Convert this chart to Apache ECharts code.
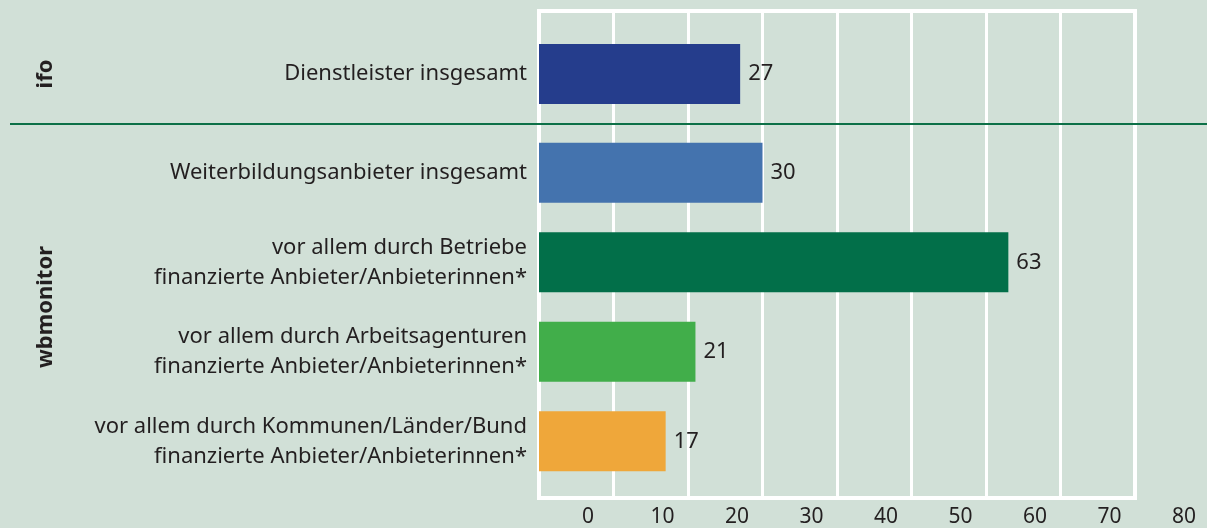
<!DOCTYPE html>
<html>
<head>
<meta charset="utf-8">
<script src="https://cdn.jsdelivr.net/npm/echarts@6/dist/echarts.min.js"></script>
<style>
  html, body { margin: 0; padding: 0; background: #d1e0d7; }
  #chart { width: 1207px; height: 528px; }
</style>
</head>
<body>
<div id="chart"></div>
<script>
// group "ifo"
const ifoCategories = ['Dienstleister insgesamt'];
const ifoValues = [27];
const ifoColors = ['#253d8c'];

// group "wbmonitor"
const wbCategories = [
  'Weiterbildungsanbieter insgesamt',
  'vor allem durch Betriebe\nfinanzierte Anbieter/Anbieterinnen*',
  'vor allem durch Arbeitsagenturen\nfinanzierte Anbieter/Anbieterinnen*',
  'vor allem durch Kommunen/Länder/Bund\nfinanzierte Anbieter/Anbieterinnen*'
];
const wbValues = [30, 63, 21, 17];
const wbColors = ['#4473ae', '#026f49', '#41ae4a', '#efa73a'];

const groupNames = ['ifo', 'wbmonitor'];

// x axis
const xMin = 0;
const xMax = 80;
const xStep = 10;

const FONT = '"Noto Sans", "Open Sans", sans-serif';
const TEXT = '#231f20';
const PLOT_LEFT = 539;
const PLOT_WIDTH = 596;

const chart = echarts.init(document.getElementById('chart'));

function catAxis(grid, cats, name) {
  return {
    type: 'category',
    gridIndex: grid,
    data: cats,
    inverse: true,
    axisLine: { show: false },
    axisTick: { show: false },
    splitLine: { show: false },
    axisLabel: {
      fontFamily: FONT,
      fontSize: 22,
      lineHeight: 30,
      color: TEXT,
      margin: 12
    },
    name: name,
    nameLocation: 'middle',
    nameRotate: 90,
    nameGap: 482,
    nameTextStyle: {
      fontFamily: FONT,
      fontSize: 22,
      fontWeight: 'bold',
      color: TEXT
    }
  };
}

function hiddenValueAxis(grid) {
  return { type: 'value', gridIndex: grid, min: xMin, max: xMax, show: false };
}

function barSeries(idx, values, colors) {
  return {
    type: 'bar',
    xAxisIndex: idx,
    yAxisIndex: idx,
    barWidth: 60,
    data: values.map((v, i) => ({ value: v, itemStyle: { color: colors[i] } })),
    label: {
      show: true,
      position: 'right',
      distance: 8,
      fontFamily: FONT,
      fontSize: 22,
      color: TEXT
    },
    silent: true
  };
}

const option = {
  backgroundColor: '#d1e0d7',
  animation: false,
  grid: [
    { left: PLOT_LEFT, width: PLOT_WIDTH, top: 10, height: 128 },
    { left: PLOT_LEFT, width: PLOT_WIDTH, top: 128, height: 358 },
    // frame + gridlines + tick labels
    {
      left: PLOT_LEFT, width: PLOT_WIDTH, top: 11, height: 488,
      show: true, borderColor: '#ffffff', borderWidth: 4, backgroundColor: 'transparent'
    }
  ],
  xAxis: [
    hiddenValueAxis(0),
    hiddenValueAxis(1),
    {
      type: 'value',
      gridIndex: 2,
      min: xMin,
      max: xMax,
      interval: xStep,
      axisLine: { show: false },
      axisTick: { show: false },
      splitLine: { show: true, lineStyle: { color: '#ffffff', width: 3 } },
      axisLabel: {
        fontFamily: FONT,
        fontSize: 21,
        color: TEXT,
        margin: 9,
        padding: [0, 0, 0, 98]
      }
    }
  ],
  yAxis: [
    catAxis(0, ifoCategories, groupNames[0]),
    catAxis(1, wbCategories, groupNames[1]),
    { type: 'value', gridIndex: 2, show: false }
  ],
  graphic: [
    {
      type: 'rect',
      left: 10,
      top: 123,
      shape: { width: 1197, height: 2 },
      style: { fill: '#0c7047' },
      z: 10
    }
  ],
  series: [
    barSeries(0, ifoValues, ifoColors),
    barSeries(1, wbValues, wbColors)
  ]
};

chart.setOption(option);
</script>
</body>
</html>
